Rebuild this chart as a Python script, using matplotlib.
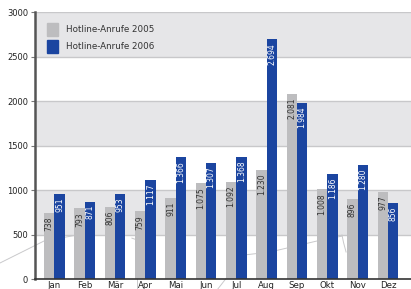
import numpy as np
import matplotlib
matplotlib.use("Agg")
import matplotlib.pyplot as plt
from matplotlib.lines import Line2D
from matplotlib.patches import Patch

# daten
monate = ["Jan", "Feb", "Mär", "Apr", "Mai", "Jun", "Jul", "Aug", "Sep", "Okt", "Nov", "Dez"]
anrufe_2005 = [738, 793, 806, 759, 911, 1075, 1092, 1230, 2081, 1008, 896, 977]
anrufe_2006 = [951, 871, 953, 1117, 1366, 1307, 1368, 2694, 1984, 1186, 1280, 856]
y_ticks = [0, 500, 1000, 1500, 2000, 2500, 3000]

c_grau = "#bdbdbf"
c_blau = "#1b45a0"
c_band = "#e6e6e8"

def fmt(v):
    # deutscher tausenderpunkt
    return "{:,}".format(v).replace(",", ".")

fig = plt.figure(figsize=(4.11, 2.89), dpi=100)
ax = fig.add_axes([0.0852, 0.0346, 0.9148, 0.9234])

# graue baender
for lo in [500, 1500, 2500]:
    ax.axhspan(lo, lo + 500, color=c_band, zorder=0, lw=0)
for y in y_ticks[1:]:
    ax.axhline(y, color="#c8c8ca", lw=1.0, zorder=0.5)

# dekorative hintergrundlinien (figurkoordinaten, hinter den balken)
deko = [
    [(0.0, 0.090), (0.107, 0.166), (0.20, 0.19)],
    [(0.321, 0.176), (0.345, 0.164)],
    [(0.333, 0.035), (0.333, 0.0)],
    [(0.530, 0.0), (0.547, 0.031), (0.596, 0.118), (0.657, 0.128), (0.771, 0.166), (0.832, 0.183)],
    [(0.832, 0.187), (0.836, 0.160), (0.842, 0.128)],
]
for pts in deko:
    xs, ys = zip(*pts)
    ax.add_line(Line2D(xs, ys, color="#c9c9cb", lw=0.7, zorder=1,
                       transform=fig.transFigure, clip_on=False))

x = np.arange(len(monate))
w = 0.34
ax.bar(x - w / 2, anrufe_2005, w, color=c_grau, zorder=2)
ax.bar(x + w / 2, anrufe_2006, w, color=c_blau, zorder=2)

for xi, v in zip(x, anrufe_2005):
    ax.text(xi - w / 2, v - 40, fmt(v), rotation=90, ha="center", va="top",
            fontsize=5.5, color="#333333", zorder=3)
for xi, v in zip(x, anrufe_2006):
    ax.text(xi + w / 2, v - 40, fmt(v), rotation=90, ha="center", va="top",
            fontsize=5.5, color="white", zorder=3)

ax.set_xlim(-0.64, 11.76)
ax.set_ylim(0, 3000)
ax.set_yticks(y_ticks)
ax.set_xticks(x)
ax.set_xticklabels(monate)
ax.tick_params(axis="y", labelsize=6, length=3, width=0.8, color="#777777", pad=2, labelcolor="#222222")
ax.tick_params(axis="x", labelsize=6.2, length=0, pad=1.5, labelcolor="#222222")

for s in ["top", "right"]:
    ax.spines[s].set_visible(False)
ax.spines["left"].set_color("#555555")
ax.spines["left"].set_linewidth(1.8)
ax.spines["bottom"].set_color("#333333")
ax.spines["bottom"].set_linewidth(1.2)
ax.spines["left"].set_zorder(4)
ax.spines["bottom"].set_zorder(4)

handles = [Patch(color=c_grau), Patch(color=c_blau)]
ax.legend(handles, ["Hotline-Anrufe 2005", "Hotline-Anrufe 2006"], loc="upper left",
          bbox_to_anchor=(0.01, 0.99), frameon=False, fontsize=6.3, handlelength=1.35,
          handleheight=1.9, labelspacing=0.45, handletextpad=0.9, labelcolor="#333333")

fig.savefig("out.png", dpi=100)
